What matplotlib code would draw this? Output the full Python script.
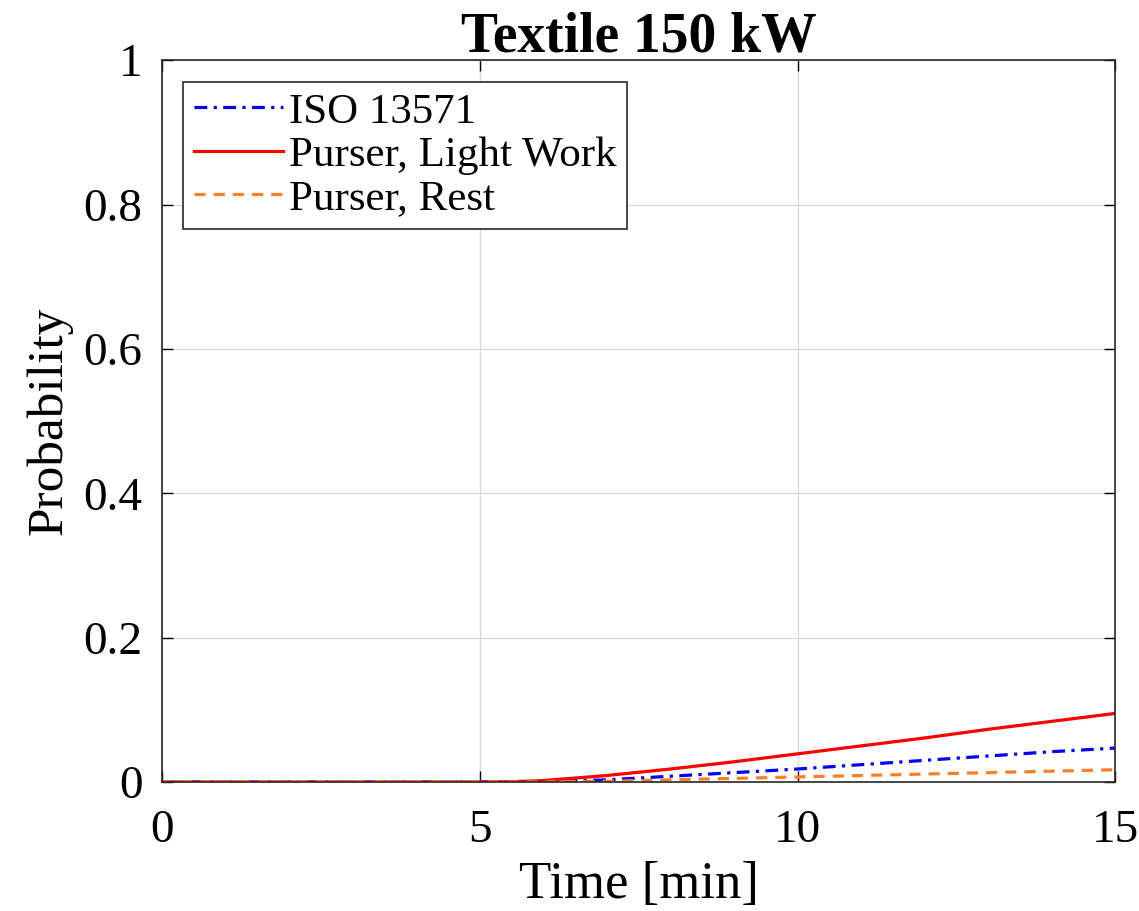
import numpy as np
import matplotlib
matplotlib.use('Agg')
import matplotlib.pyplot as plt

plt.rcParams['font.family'] = ['Liberation Serif', 'DejaVu Serif']
plt.rcParams['mathtext.fontset'] = 'stix'

# time in minutes
t = [0, 1, 2, 3, 4, 5, 5.5, 6, 7, 8, 9, 10, 11, 12, 13, 14, 15]
iso = [0, 0, 0, 0, 0, 0, 0, 0.0005, 0.003, 0.008, 0.013, 0.018, 0.024, 0.030, 0.036, 0.042, 0.047]
light_work = [0, 0, 0, 0, 0, 0, 0.0004, 0.002, 0.009, 0.018, 0.028, 0.039, 0.050, 0.061, 0.073, 0.084, 0.095]
rest = [0, 0, 0, 0, 0, 0, 0, 0.0002, 0.001, 0.003, 0.005, 0.007, 0.009, 0.011, 0.013, 0.015, 0.017]

fig = plt.figure(figsize=(11.39, 9.11), dpi=100)
ax = fig.add_axes([0.1422, 0.1416, 0.837, 0.7924])

ax.plot(t, iso, color='#0000ff', linestyle=(0, (4, 2, 1, 2)), linewidth=2.3, label='ISO 13571')
ax.plot(t, light_work, color='#ff0000', linestyle='-', linewidth=2.3, label='Purser, Light Work')
ax.plot(t, rest, color='#ff7f27', linestyle=(0, (3.5, 2.5)), linewidth=2.3, label='Purser, Rest')

ax.set_xlim(0, 15)
ax.set_ylim(0, 1)
ax.set_xticks([0, 5, 10, 15])
ax.set_yticks([0, 0.2, 0.4, 0.6, 0.8, 1])
ax.set_yticklabels(['0', '0.2', '0.4', '0.6', '0.8', '1'])
ax.grid(True, color='#dcdcdc', linewidth=1)
ax.tick_params(direction='in', top=True, right=True, labelsize=34, length=8, width=1)
ax.tick_params(axis='x', pad=20)
ax.tick_params(axis='y', pad=14)
for s in ax.spines.values():
    s.set_linewidth(1.2)
    s.set_color('#262626')

ax.set_xlabel('Time [min]', fontsize=38, labelpad=6)
ax.set_ylabel('Probability', fontsize=37, labelpad=8)
ax.set_title('Textile 150 kW', fontsize=40, fontweight='bold', pad=6)

leg = ax.legend(loc='upper left', fontsize=31, frameon=True, fancybox=False,
                borderpad=0.25, handlelength=2.05, handletextpad=0.15, labelspacing=0.1,
                borderaxespad=0.5)
leg.get_frame().set_edgecolor('#262626')
leg.get_frame().set_linewidth(1.2)
leg.get_frame().set_alpha(1)

fig.savefig('out.png', dpi=100)
